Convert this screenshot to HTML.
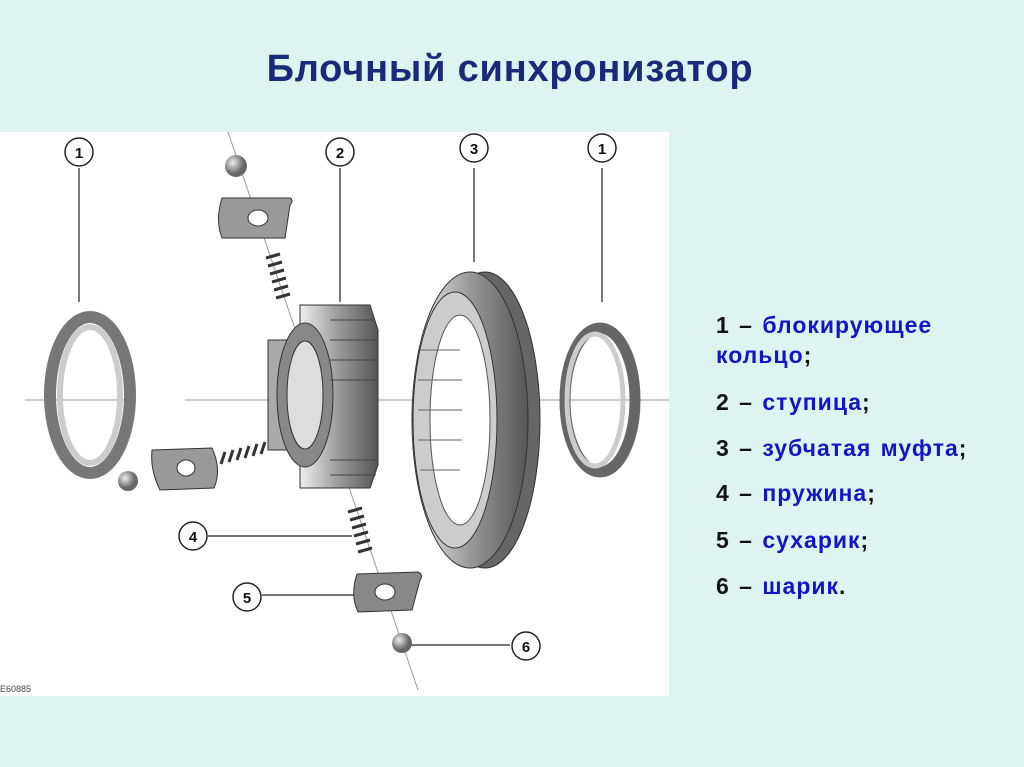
<!DOCTYPE html>
<html><head><meta charset="utf-8"><style>
body{margin:0;width:1024px;height:767px;background:#ddf4f0;position:relative;overflow:hidden;font-family:"Liberation Sans",sans-serif}
h1{position:absolute;left:0;width:1024px;top:48px;margin:0;text-align:center;font-size:38px;color:#1a2a7a;font-weight:bold;letter-spacing:0.8px}
.leg{position:absolute;left:716px;font-size:23px;font-weight:bold;color:#111;line-height:30px;letter-spacing:1px;word-spacing:2px;white-space:nowrap}
.leg b{color:#1515c8}
</style></head><body>
<h1 style="left:-2px">Блочный синхронизатор</h1>
<svg style="position:absolute;left:0;top:132px" width="669" height="564" viewBox="0 132 669 564">
<rect x="0" y="132" width="669" height="564" fill="#fff"/>
<defs><linearGradient id="g" x1="0" x2="1"><stop offset="0" stop-color="#eee"/><stop offset=".5" stop-color="#999"/><stop offset="1" stop-color="#555"/></linearGradient>
<radialGradient id="b" cx=".35" cy=".35"><stop offset="0" stop-color="#eee"/><stop offset="1" stop-color="#666"/></radialGradient></defs>
<g stroke="#999" stroke-width="1">
<line x1="25" y1="400" x2="135" y2="400"/><line x1="185" y1="400" x2="669" y2="400"/>
<line x1="228" y1="132" x2="418" y2="690"/>
</g>
<g stroke="#222" stroke-width="1.2" fill="none">
<line x1="79" y1="168" x2="79" y2="302"/><line x1="340" y1="168" x2="340" y2="302"/>
<line x1="474" y1="168" x2="474" y2="262"/><line x1="602" y1="168" x2="602" y2="302"/>
<line x1="208" y1="536" x2="352" y2="536"/><line x1="262" y1="595" x2="356" y2="595"/><line x1="408" y1="645" x2="510" y2="645"/>
</g>
<ellipse cx="90" cy="395" rx="40" ry="78" fill="none" stroke="#777" stroke-width="12"/>
<ellipse cx="90" cy="395" rx="30" ry="68" fill="none" stroke="#ccc" stroke-width="6"/>
<rect x="268" y="340" width="30" height="110" fill="#aaa" stroke="#333"/>
<path d="M300 305 L370 305 L378 330 L378 465 L370 488 L300 488 Z" fill="url(#g)" stroke="#333"/>
<ellipse cx="305" cy="395" rx="28" ry="72" fill="#888" stroke="#333"/>
<ellipse cx="305" cy="395" rx="18" ry="54" fill="#ddd" stroke="#333"/>
<g stroke="#444">
<line x1="330" y1="320" x2="375" y2="320"/><line x1="330" y1="340" x2="376" y2="340"/><line x1="330" y1="360" x2="376" y2="360"/><line x1="330" y1="380" x2="376" y2="380"/><line x1="330" y1="460" x2="376" y2="460"/><line x1="330" y1="475" x2="376" y2="475"/>
</g>
<ellipse cx="485" cy="420" rx="55" ry="148" fill="#666" stroke="#333"/>
<ellipse cx="470" cy="420" rx="58" ry="148" fill="url(#g)" stroke="#333"/>
<ellipse cx="455" cy="420" rx="42" ry="128" fill="#ccc" stroke="#333"/>
<ellipse cx="460" cy="420" rx="30" ry="105" fill="#fff" stroke="#555"/>
<g stroke="#666"><line x1="420" y1="350" x2="460" y2="350"/><line x1="418" y1="380" x2="462" y2="380"/><line x1="418" y1="410" x2="462" y2="410"/><line x1="418" y1="440" x2="462" y2="440"/><line x1="420" y1="470" x2="460" y2="470"/></g>
<ellipse cx="600" cy="400" rx="35" ry="72" fill="none" stroke="#666" stroke-width="11"/>
<ellipse cx="595" cy="400" rx="28" ry="66" fill="none" stroke="#ccc" stroke-width="5"/>
<path d="M222 198 L290 198 Q294 200 290 205 L285 238 L222 238 Q215 220 222 198Z" fill="#999" stroke="#333"/>
<ellipse cx="258" cy="218" rx="10" ry="8" fill="#fff" stroke="#333"/>
<path d="M152 450 L212 448 Q222 470 214 488 L160 490 Q150 470 152 450Z" fill="#999" stroke="#333"/>
<ellipse cx="186" cy="468" rx="9" ry="8" fill="#fff" stroke="#333"/>
<path d="M357 574 L418 572 Q424 575 420 580 L412 610 L358 612 Q350 595 357 574Z" fill="#888" stroke="#333"/>
<ellipse cx="385" cy="592" rx="10" ry="8" fill="#fff" stroke="#333"/>
<g fill="none" stroke="#333" stroke-width="3">
<path d="M266 258 l14 -4 M268 266 l14 -4 M270 274 l14 -4 M272 282 l14 -4 M274 290 l14 -4 M276 298 l14 -4"/>
<path d="M348 512 l14 -4 M350 520 l14 -4 M352 528 l14 -4 M354 536 l14 -4 M356 544 l14 -4 M358 552 l14 -4"/>
<path d="M225 452 l-4 12 M233 450 l-4 12 M241 448 l-4 12 M249 446 l-4 12 M257 444 l-4 12 M265 442 l-4 12"/>
</g>
<circle cx="236" cy="166" r="11" fill="url(#b)"/><circle cx="128" cy="481" r="10" fill="url(#b)"/><circle cx="402" cy="643" r="10" fill="url(#b)"/>
<g fill="#fff" stroke="#222" stroke-width="1.5">
<circle cx="79" cy="152" r="14"/><circle cx="340" cy="152" r="14"/><circle cx="474" cy="148" r="14"/><circle cx="602" cy="148" r="14"/>
<circle cx="193" cy="536" r="14"/><circle cx="247" cy="597" r="14"/><circle cx="526" cy="646" r="14"/>
</g>
<g fill="#111" font-family="Liberation Sans" font-size="15" font-weight="bold" text-anchor="middle">
<text x="79" y="158">1</text><text x="340" y="158">2</text><text x="474" y="154">3</text><text x="602" y="154">1</text>
<text x="193" y="542">4</text><text x="247" y="603">5</text><text x="526" y="652">6</text>
</g>
<text x="0" y="692" font-size="9" fill="#444" font-family="Liberation Sans">E60885</text>
</svg>
<div class="leg" style="top:310px">1 – <b>блокирующее<br>кольцо</b>;</div>
<div class="leg" style="top:387px">2 – <b>ступица</b>;</div>
<div class="leg" style="top:433px">3 – <b>зубчатая муфта</b>;</div>
<div class="leg" style="top:478px">4 – <b>пружина</b>;</div>
<div class="leg" style="top:525px">5 – <b>сухарик</b>;</div>
<div class="leg" style="top:571px">6 – <b>шарик</b>.</div>
</body></html>
